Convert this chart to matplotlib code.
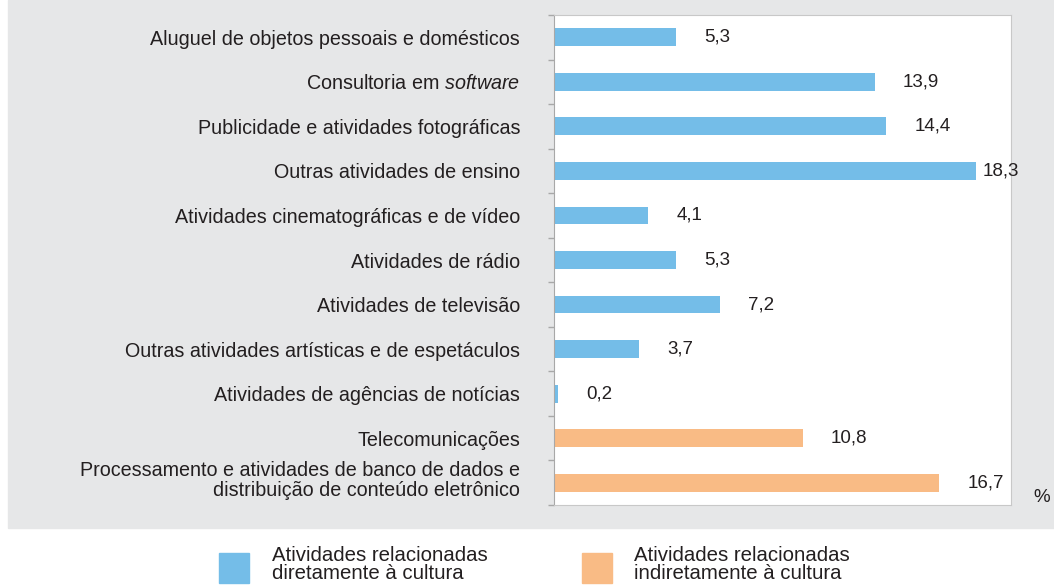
import matplotlib.pyplot as plt
from matplotlib.patches import Rectangle
from matplotlib.transforms import ScaledTranslation

plt.rcParams['font.family'] = ['Liberation Sans', 'DejaVu Sans']
plt.rcParams['mathtext.fontset'] = 'custom'
plt.rcParams['mathtext.rm'] = 'Liberation Sans'
plt.rcParams['mathtext.it'] = 'Liberation Sans:italic'

# data
categorias = [
    'Aluguel de objetos pessoais e domésticos',
    r'Consultoria em $\mathit{software}$',
    'Publicidade e atividades fotográficas',
    'Outras atividades de ensino',
    'Atividades cinematográficas e de vídeo',
    'Atividades de rádio',
    'Atividades de televisão',
    'Outras atividades artísticas e de espetáculos',
    'Atividades de agências de notícias',
    'Telecomunicações',
    'Processamento e atividades de banco de dados e\ndistribuição de conteúdo eletrônico',
]
valores = [5.3, 13.9, 14.4, 18.3, 4.1, 5.3, 7.2, 3.7, 0.2, 10.8, 16.7]
grupo = ['direta'] * 9 + ['indireta'] * 2
legenda = ['Atividades relacionadas\ndiretamente à cultura',
           'Atividades relacionadas\nindiretamente à cultura']

cores = {'direta': '#74BDE8', 'indireta': '#F9BB85'}
txt = '#231F20'
fs = 14.2

fig = plt.figure(figsize=(10.54, 5.88), dpi=100)
fig.patches.append(Rectangle((8 / 1054, 1 - 528 / 588), 1, 528 / 588,
                             transform=fig.transFigure, color='#E6E7E8', zorder=-5))

ax = fig.add_axes([553.5 / 1054, 1 - 505 / 588, 457.5 / 1054, 490 / 588])
ax.set_facecolor('white')
ypos = list(range(len(valores)))
ax.barh(ypos, valores, height=0.4, color=[cores[g] for g in grupo])
ax.set_ylim(len(valores) - 0.5, -0.5)
ax.set_xlim(0, 19.8)

for y, v in zip(ypos, valores):
    # the longest bar gets its label close, it would not fit otherwise
    off = 6 if v > 18 else 28
    ax.annotate(f'{v:.1f}'.replace('.', ','), (v, y), xytext=(off, 0),
                textcoords='offset pixels',
                va='center', ha='left', fontsize=13.5, color=txt)

ax.set_yticks(ypos)
ax.set_yticklabels(categorias, fontsize=fs, color=txt, linespacing=1.1)
ax.tick_params(axis='y', length=0, pad=24)
ax.set_yticks([i + 0.5 for i in range(-1, len(valores))], minor=True)
ax.tick_params(axis='y', which='minor', length=4, color='#A8A8A8', width=1)
ax.set_xticks([])
for s in ax.spines.values():
    s.set_color('#C8C8C8')
ax.spines['left'].set_color('#A8A8A8')

# two-line label sits a bit higher than its bar
lab = ax.get_yticklabels()[-1]
lab.set_transform(lab.get_transform() + ScaledTranslation(0, 0.05, fig.dpi_scale_trans))

fig.text(1042 / 1054, 1 - 498 / 588, '%', fontsize=13.5, color=txt, ha='center', va='center')

# legend
for i, (g, lab) in enumerate(zip(['direta', 'indireta'], legenda)):
    x0 = [219, 582][i]
    xt = [272, 634][i]
    fig.patches.append(Rectangle((x0 / 1054, 1 - 583 / 588), 30 / 1054, 30 / 588,
                                 transform=fig.transFigure, color=cores[g]))
    fig.text(xt / 1054, 1 - 546 / 588, lab, fontsize=14.7, color=txt,
             ha='left', va='top', linespacing=0.95)

fig.savefig('out.png', dpi=100)
